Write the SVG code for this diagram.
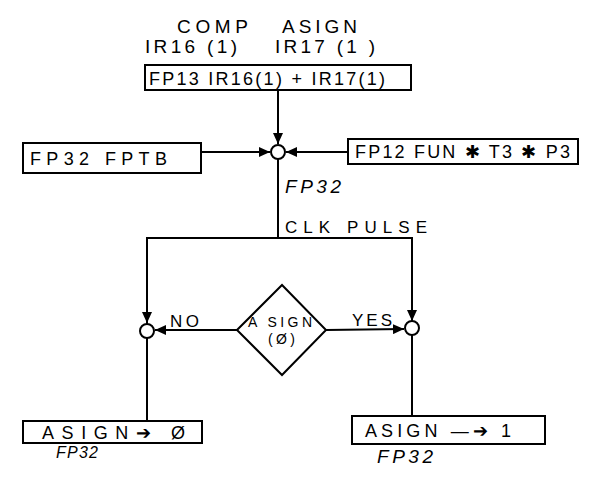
<svg xmlns="http://www.w3.org/2000/svg" width="589" height="477" viewBox="0 0 589 477">
<style>
.box{fill:#fff;stroke:#000;stroke-width:2}
.ln{fill:none;stroke:#000;stroke-width:2}
.jn{fill:#fff;stroke:#000;stroke-width:2}
text{font-family:"Liberation Sans",Arial,sans-serif;fill:#000;font-size:17px}
.it{font-style:italic;font-size:19px}
.its{font-style:italic;font-size:16px}
.big{font-size:18px}
.ttl{font-size:19px}
.dm{font-size:14px}
</style>
<defs>
<marker id="ah" markerUnits="userSpaceOnUse" markerWidth="12" markerHeight="10" refX="11" refY="5" orient="auto">
<path d="M0,0 L11,5 L0,10 Z" fill="#000"/>
</marker>
</defs>
<rect width="589" height="477" fill="#fff"/>

<g id="title">
<text class="ttl" x="177" y="33" textLength="71" lengthAdjust="spacing">COMP</text>
<text class="ttl" x="282" y="33" textLength="75" lengthAdjust="spacing">ASIGN</text>
<text class="ttl" x="145" y="53" textLength="92" lengthAdjust="spacing">IR16 (1)</text>
<text class="ttl" x="275" y="53" textLength="100" lengthAdjust="spacing">IR17 (1 )</text>
</g>

<g id="connectors">
<line class="ln" x1="278" y1="90" x2="278" y2="144" marker-end="url(#ah)"/>
<line class="ln" x1="201" y1="152" x2="270" y2="152" marker-end="url(#ah)"/>
<line class="ln" x1="348" y1="152" x2="286" y2="152" marker-end="url(#ah)"/>
<line class="ln" x1="278" y1="159" x2="278" y2="238"/>
<polyline class="ln" points="147,324 147,238 412,238 412,321"/>
<line class="ln" x1="147" y1="300" x2="147" y2="323" marker-end="url(#ah)"/>
<line class="ln" x1="412" y1="300" x2="412" y2="321" marker-end="url(#ah)"/>
<line class="ln" x1="237" y1="330" x2="155" y2="330" marker-end="url(#ah)"/>
<line class="ln" x1="326" y1="330" x2="404" y2="329" marker-end="url(#ah)"/>
<line class="ln" x1="147" y1="338" x2="147" y2="421"/>
<line class="ln" x1="412" y1="335" x2="412" y2="416"/>
</g>

<g id="n_fp13">
<rect class="box" x="145" y="65" width="266" height="25"/>
<text class="big" x="149" y="85" textLength="236" lengthAdjust="spacing">FP13 IR16(1) + IR17(1)</text>
</g>

<g id="n_fptb">
<rect class="box" x="23" y="143" width="178" height="30"/>
<text class="big" x="30" y="165" textLength="137" lengthAdjust="spacing">FP32  FPTB</text>
</g>

<g id="n_fp12">
<rect class="box" x="348" y="139" width="230" height="25"/>
<text class="big" x="355" y="158" textLength="215" lengthAdjust="spacing">FP12 FUN ✱ T3 ✱ P3</text>
</g>

<g id="j_top">
<circle class="jn" cx="278" cy="152" r="7"/>
</g>

<g id="l_fp32a">
<text class="it" x="285" y="193" textLength="56" lengthAdjust="spacing">FP32</text>
</g>

<g id="l_clk">
<text x="285" y="233" textLength="142" lengthAdjust="spacing">CLK   PULSE</text>
</g>

<g id="n_decision">
<polygon class="box" points="237,330 282,285 326,330 282,375"/>
<text class="dm" x="248" y="327" textLength="64" lengthAdjust="spacing">A SIGN</text>
<text class="dm" x="268" y="344" textLength="27" lengthAdjust="spacing">(Ø)</text>
</g>

<g id="l_no"><text x="170" y="327" textLength="29" lengthAdjust="spacing">NO</text></g>
<g id="l_yes"><text x="352" y="326" textLength="40" lengthAdjust="spacing">YES</text></g>

<g id="j_left"><circle class="jn" cx="147" cy="331" r="7"/></g>
<g id="j_right"><circle class="jn" cx="412" cy="328" r="7"/></g>

<g id="n_asign0">
<rect class="box" x="23" y="421" width="179" height="22"/>
<text class="big" x="42" y="439" textLength="143" lengthAdjust="spacing">ASIGN➔  Ø</text>
</g>
<g id="l_fp32b"><text class="its" x="56" y="458" textLength="42" lengthAdjust="spacing">FP32</text></g>

<g id="n_asign1">
<rect class="box" x="352" y="416" width="193" height="28"/>
<text class="big" x="365" y="437" textLength="146" lengthAdjust="spacing">ASIGN —➔   1</text>
</g>
<g id="l_fp32c"><text class="it" x="377" y="463" textLength="56" lengthAdjust="spacing">FP32</text></g>
</svg>
